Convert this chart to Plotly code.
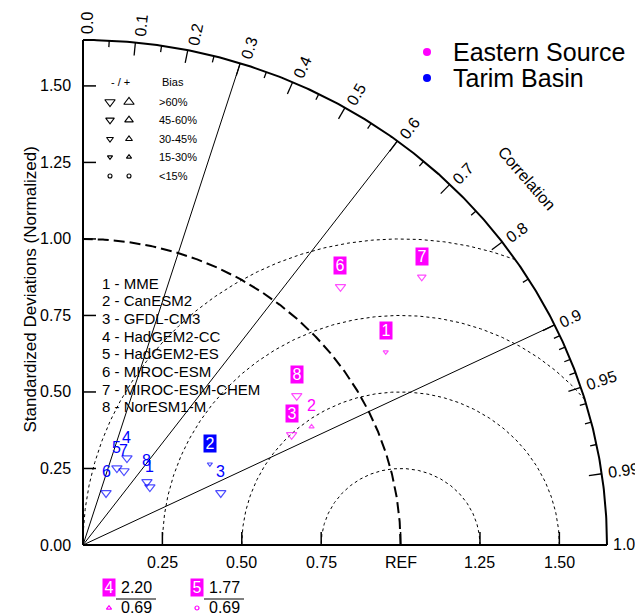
import numpy as np
import plotly.graph_objects as go

# ---------------- data ----------------
models = ["MME", "CanESM2", "GFDL-CM3", "HadGEM2-CC", "HadGEM2-ES",
          "MIROC-ESM", "MIROC-ESM-CHEM", "NorESM1-M"]
regions = ["Eastern Source", "Tarim Basin"]
region_colors = ["#FF00FF", "#0000FF"]

# normalized standard deviation and correlation per model
east_std = [1.143, 0.817, 0.749, 2.20, 1.77, 1.170, 1.380, 0.831]
east_corr = [0.834, 0.881, 0.877, 0.69, 0.69, 0.693, 0.773, 0.810]
east_bias_sign = [-1, 1, -1, 1, 1, -1, -1, -1]
east_bias_class = ["15-30%", "15-30%", ">60%", "15-30%", "<15%", ">60%", "45-60%", ">60%"]
east_boxed = [True, False, True, True, True, True, True, True]

tarim_std = [0.283, 0.479, 0.466, 0.316, 0.273, 0.185, 0.274, 0.288]
tarim_corr = [0.744, 0.834, 0.931, 0.438, 0.391, 0.392, 0.471, 0.699]
tarim_bias_sign = [-1, -1, -1, -1, -1, -1, -1, -1]
tarim_bias_class = [">60%", "15-30%", ">60%", ">60%", ">60%", ">60%", ">60%", ">60%"]
tarim_boxed = [False, True, False, False, False, False, False, False]

bias_classes = [">60%", "45-60%", "30-45%", "15-30%", "<15%"]

std_tick_vals = [0.25, 0.50, 0.75, 1.00, 1.25, 1.50]
std_tick_text = ["0.25", "0.50", "0.75", "REF", "1.25", "1.50"]
y_tick_vals = [0.00, 0.25, 0.50, 0.75, 1.00, 1.25, 1.50]
y_tick_text = ["0.00", "0.25", "0.50", "0.75", "1.00", "1.25", "1.50"]

corr_label_vals = [0.0, 0.1, 0.2, 0.3, 0.4, 0.5, 0.6, 0.7, 0.8, 0.9, 0.95, 0.99, 1.0]
corr_label_text = ["0.0", "0.1", "0.2", "0.3", "0.4", "0.5", "0.6", "0.7", "0.8",
                   "0.9", "0.95", "0.99", "1.0"]
corr_major_ticks = [0.1, 0.2, 0.3, 0.4, 0.5, 0.6, 0.7, 0.8, 0.9, 0.95, 0.99]
corr_minor_ticks = [0.05, 0.15, 0.25, 0.35, 0.45, 0.55, 0.65, 0.75, 0.85,
                    0.91, 0.92, 0.93, 0.94, 0.96, 0.97, 0.98]
corr_radial_lines = [0.3, 0.6, 0.9]
rms_levels = [0.25, 0.50, 0.75, 1.00]
SMAX = 1.65

# ---------------- geometry ----------------
W, H = 643, 615
SHIFT = 8.0            # page body margin offset of the figure in the window
OX, OY = 83.0 - SHIFT, 545.0 - SHIFT
PX_X = (607.0 - 83.0) / SMAX
PX_Y = (545.0 - 40.0) / SMAX
FONT = "Liberation Sans, Arial, Helvetica, sans-serif"


def to_data(px, py):
    """window pixel -> data coordinates"""
    return (px - 83.0) / PX_X, (545.0 - py) / PX_Y


def to_paper(px, py):
    return (px - SHIFT) / W, 1 - (py - SHIFT) / H


fig = go.Figure()
annotations = []
shapes = []


def add_lines(xs, ys, width, dash="solid", color="black"):
    fig.add_trace(go.Scatter(x=list(xs), y=list(ys), mode="lines",
                             line=dict(color=color, width=width, dash=dash),
                             hoverinfo="skip", showlegend=False, cliponaxis=False))


# RMS (centered) arcs around REF
for r in rms_levels:
    c0 = (SMAX ** 2 - 1 - r ** 2) / (2 * r)
    phi0 = np.arccos(c0) if c0 < 1 else 0.0
    phi = np.linspace(phi0, np.pi, 300)
    add_lines(1 + r * np.cos(phi), r * np.sin(phi), 1, dash="3px,3px")

# REF arc
th = np.linspace(0, np.pi / 2, 300)
add_lines(np.cos(th), np.sin(th), 2, dash="11px,5px")

# radial correlation lines
xs, ys = [], []
for c in corr_radial_lines:
    t = np.arccos(c)
    xs += [0, SMAX * np.cos(t), None]
    ys += [0, SMAX * np.sin(t), None]
add_lines(xs, ys, 1)

# correlation arc ticks
xs, ys = [], []
for ticks, L in ((corr_major_ticks, 13.0), (corr_minor_ticks, 6.5)):
    for c in ticks:
        t = np.arccos(c)
        xo, yo = SMAX * np.cos(t), SMAX * np.sin(t)
        xs += [xo, xo - L * np.cos(t) / PX_X, None]
        ys += [yo, yo - L * np.sin(t) / PX_Y, None]
add_lines(xs, ys, 1.3)

# outer arc
add_lines(SMAX * np.cos(th), SMAX * np.sin(th), 2)

# axes
add_lines([0, SMAX, None, 0, 0], [0, 0, None, 0, SMAX], 2)

# axis ticks
xs, ys = [], []
for v in std_tick_vals:
    xs += [v, v, None]
    ys += [0, 13 / PX_Y, None]
for v in y_tick_vals[1:]:
    xs += [0, 13 / PX_X, None]
    ys += [v, v, None]
add_lines(xs, ys, 1.5)

# axis tick labels
for v, t in zip(std_tick_vals, std_tick_text):
    annotations.append(dict(x=v, y=0, text=t, showarrow=False, xanchor="center",
                            yanchor="middle", yshift=-17,
                            font=dict(size=16, color="black", family=FONT)))
for v, t in zip(y_tick_vals, y_tick_text):
    annotations.append(dict(x=0, y=v, text=t, showarrow=False, xanchor="right",
                            yanchor="middle", xshift=-10,
                            font=dict(size=16, color="black", family=FONT)))

# correlation labels
for c, t in zip(corr_label_vals, corr_label_text):
    th_c = np.arccos(c)
    deg = np.degrees(th_c)
    w = 16 * (0.556 * (len(t) - 1) + 0.278)
    dist = 6 + w / 2
    perp = 6 * deg / 90 - 1
    dx = dist * np.cos(th_c) + perp * np.sin(th_c)
    dy_down = -dist * np.sin(th_c) + perp * np.cos(th_c)
    annotations.append(dict(x=SMAX * np.cos(th_c), y=SMAX * np.sin(th_c), text=t,
                            showarrow=False, xanchor="center", yanchor="middle",
                            xshift=dx, yshift=-dy_down, textangle=-deg,
                            font=dict(size=16, color="black", family=FONT)))

cx, cy = to_data(527, 178)
annotations.append(dict(x=cx, y=cy, text="Correlation", showarrow=False,
                        textangle=49, font=dict(size=16, color="black", family=FONT)))

# y axis title
tx, ty = to_paper(18, 290)
annotations.append(dict(x=tx, y=ty, xref="paper", yref="paper",
                        text="Standardized Deviations (Normalized)", showarrow=False,
                        textangle=-90, font=dict(size=17, color="black", family=FONT)))

# ---------------- model points ----------------
size_map = {">60%": 9, "45-60%": 7.5, "30-45%": 6, "15-30%": 4.5, "<15%": 4}


def symbol_for(sign, cls):
    if cls == "<15%":
        return "circle-open"
    return "triangle-up-open" if sign > 0 else "triangle-down-open"


region_data = [
    (east_std, east_corr, east_bias_sign, east_bias_class, east_boxed),
    (tarim_std, tarim_corr, tarim_bias_sign, tarim_bias_class, tarim_boxed),
]

out_items = []
for ri, (stds, corrs, signs, classes, boxed) in enumerate(region_data):
    col = region_colors[ri]
    px_, py_, syms, sizes = [], [], [], []
    for i, (s, c) in enumerate(zip(stds, corrs)):
        if s > SMAX:
            out_items.append((ri, i, s, c, signs[i], classes[i], boxed[i]))
            continue
        x, y = s * c, s * np.sqrt(1 - c * c)
        px_.append(x)
        py_.append(y)
        syms.append(symbol_for(signs[i], classes[i]))
        sizes.append(size_map[classes[i]])
        lab = dict(x=x, y=y, text=str(i + 1), showarrow=False, xanchor="center",
                   yanchor="middle", yshift=21,
                   font=dict(size=16, family=FONT,
                             color="white" if boxed[i] else col))
        if boxed[i]:
            lab.update(bgcolor=col, borderpad=0, width=12, height=17)
        annotations.append(lab)
    fig.add_trace(go.Scatter(x=px_, y=py_, mode="markers", name=regions[ri],
                             marker=dict(symbol=syms, size=sizes, color=col,
                                         line=dict(width=1.2, color=col)),
                             showlegend=False, cliponaxis=False))

# out-of-range footnotes
for k, (ri, i, s, c, sign, cls, bx) in enumerate(out_items):
    col = region_colors[ri]
    bxp = 109 + 88 * k
    x0, y0 = to_data(bxp, 587)
    lab = dict(x=x0, y=y0, text=str(i + 1), showarrow=False,
               font=dict(size=16, family=FONT, color="white" if bx else col))
    if bx:
        lab.update(bgcolor=col, borderpad=0, width=12, height=17)
    annotations.append(lab)
    x1, y1 = to_data(bxp + 27, 587)
    annotations.append(dict(x=x1, y=y1, text=f"{s:.2f}", showarrow=False,
                            font=dict(size=16, family=FONT, color="black")))
    x2, y2 = to_data(bxp + 27, 607)
    annotations.append(dict(x=x2, y=y2, text=f"{c:.2f}", showarrow=False,
                            font=dict(size=16, family=FONT, color="black")))
    la, lb = to_data(bxp + 7, 599), to_data(bxp + 47, 599)
    add_lines([la[0], lb[0]], [la[1], lb[1]], 1)
    mx, my = to_data(bxp, 608)
    fig.add_trace(go.Scatter(x=[mx], y=[my], mode="markers",
                             marker=dict(symbol=symbol_for(sign, cls), size=size_map[cls],
                                         color=col, line=dict(width=1.2, color=col)),
                             showlegend=False, cliponaxis=False, hoverinfo="skip"))

# ---------------- bias legend ----------------
hx, hy = to_data(120, 82)
annotations.append(dict(x=hx, y=hy, text="- / +", showarrow=False,
                        font=dict(size=11, family=FONT, color="black")))
hx, hy = to_data(160, 82)
annotations.append(dict(x=hx, y=hy, text="Bias", showarrow=False, xanchor="left",
                        font=dict(size=11, family=FONT, color="black")))
row_y = [102, 120, 139, 157, 176]
for cls, ry in zip(bias_classes, row_y):
    for sign, rx in ((-1, 110), (1, 129)):
        mx, my = to_data(rx, ry)
        fig.add_trace(go.Scatter(x=[mx], y=[my], mode="markers",
                                 marker=dict(symbol=symbol_for(sign, cls), size=size_map[cls],
                                             color="black", line=dict(width=1.1, color="black")),
                                 showlegend=False, hoverinfo="skip"))
    tx, ty = to_data(157, ry)
    annotations.append(dict(x=tx, y=ty, text=cls.replace(">", "&gt;").replace("<", "&lt;"),
                            showarrow=False, xanchor="left",
                            font=dict(size=11, family=FONT, color="black")))

# ---------------- model list ----------------
for i, m in enumerate(models):
    tx, ty = to_paper(100, 283 + 17.7 * i)
    annotations.append(dict(x=tx, y=ty, xref="paper", yref="paper",
                            text=f"{i + 1} - {m}", showarrow=False, xanchor="left",
                            yanchor="middle",
                            font=dict(size=15, family=FONT, color="black")))

# ---------------- region legend ----------------
for ri, (name, col) in enumerate(zip(regions, region_colors)):
    ly = 52 + 26 * ri
    (ax0, ay0), (ax1, ay1) = to_paper(423, ly + 4), to_paper(431, ly - 4)
    shapes.append(dict(type="circle", xref="paper", yref="paper",
                       x0=ax0, x1=ax1, y0=ay0, y1=ay1,
                       fillcolor=col, line=dict(width=0)))
    tx, ty = to_paper(451, ly)
    annotations.append(dict(x=tx, y=ty, xref="paper", yref="paper",
                            text=name, showarrow=False, xanchor="left", yanchor="middle",
                            font=dict(size=25, family=FONT, color="black")))

fig.update_layout(
    width=W, height=H,
    margin=dict(l=0, r=0, t=0, b=0),
    paper_bgcolor="white", plot_bgcolor="white",
    showlegend=False,
    xaxis=dict(visible=False, range=[-OX / PX_X, (W - OX) / PX_X]),
    yaxis=dict(visible=False, range=[-(H - OY) / PX_Y, OY / PX_Y]),
    annotations=annotations,
    shapes=shapes,
    font=dict(family=FONT),
)

fig.write_html("out.html")
